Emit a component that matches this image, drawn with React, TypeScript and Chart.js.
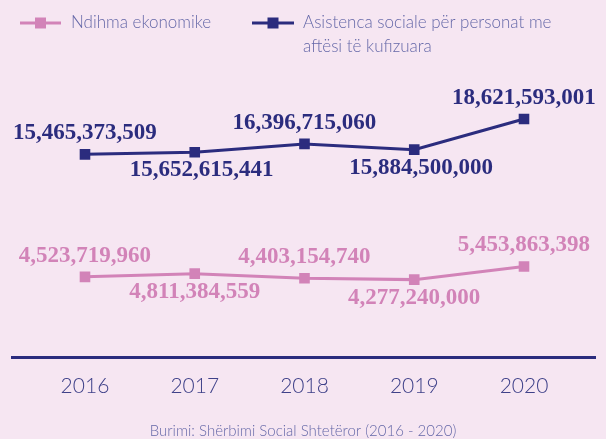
import { useEffect, useRef } from 'react';
import { Chart, registerables } from 'chart.js';

Chart.register(...registerables);

const years = [2016, 2017, 2018, 2019, 2020];
const ndihmaEkonomike = [4523719960, 4811384559, 4403154740, 4277240000, 5453863398];
const asistencaSociale = [15465373509, 15652615441, 16396715060, 15884500000, 18621593001];
const seriesNames = ['Ndihma ekonomike', 'Asistenca sociale për personat me aftësi të kufizuara'];
const sourceNote = 'Burimi: Shërbimi Social Shtetëror (2016 - 2020)';

const NAVY = '#2b2c7e';
const PINK = '#d283b8';
const BG = '#f6e6f2';
const TEXT = '#6568a8';
const TICK = '#3f4189';
const SANS = '"Lato", "Open Sans", sans-serif';
const SERIF = '"Liberation Serif", "DejaVu Serif", serif';

function wrapText(ctx: CanvasRenderingContext2D, text: string, maxWidth: number): string[] {
  const words = text.split(' ');
  const lines: string[] = [];
  let cur = '';
  for (const w of words) {
    const test = cur ? cur + ' ' + w : w;
    if (ctx.measureText(test).width > maxWidth && cur) {
      lines.push(cur);
      cur = w;
    } else {
      cur = test;
    }
  }
  if (cur) lines.push(cur);
  return lines;
}

export default function App() {
  const ref = useRef<HTMLCanvasElement>(null);

  useEffect(() => {
    const canvas = ref.current;
    if (!canvas) return;

    const valueLabels = {
      id: 'valueLabels',
      afterDatasetsDraw(chart: any) {
        const ctx = chart.ctx as CanvasRenderingContext2D;
        chart.data.datasets.forEach((ds: any, di: number) => {
          const meta = chart.getDatasetMeta(di);
          ctx.save();
          ctx.font = 'bold 23px ' + SERIF;
          ctx.fillStyle = ds.borderColor;
          ctx.textAlign = 'center';
          ctx.textBaseline = 'middle';
          meta.data.forEach((el: any, i: number) => {
            const v = ds.data[i].y as number;
            const above = i % 2 === 0;
            const dx = !above && di === 1 ? 7 : 0;
            ctx.fillText(v.toLocaleString('en-US'), el.x + dx, el.y + (above ? -21 : 18));
          });
          ctx.restore();
        });
      },
    };

    const legendAndNote = {
      id: 'legendAndNote',
      afterDraw(chart: any) {
        const ctx = chart.ctx as CanvasRenderingContext2D;
        ctx.save();
        const items = [
          { ds: chart.data.datasets[0], x0: 20, x1: 61, tx: 71 },
          { ds: chart.data.datasets[1], x0: 252, x1: 294, tx: 303 },
        ];
        const ly = 23;
        ctx.font = '300 17px ' + SANS;
        items.forEach((it) => {
          const color = it.ds.borderColor;
          ctx.strokeStyle = color;
          ctx.lineWidth = 3;
          ctx.beginPath();
          ctx.moveTo(it.x0, ly);
          ctx.lineTo(it.x1, ly);
          ctx.stroke();
          ctx.fillStyle = color;
          const cx = (it.x0 + it.x1) / 2;
          ctx.fillRect(cx - 5.5, ly - 5.5, 11, 11);
          ctx.fillStyle = TEXT;
          ctx.textAlign = 'left';
          ctx.textBaseline = 'middle';
          const lines = wrapText(ctx, it.ds.label, 260);
          lines.forEach((ln, k) => ctx.fillText(ln, it.tx, ly + k * 24));
        });
        ctx.font = '300 15px ' + SANS;
        ctx.fillStyle = TEXT;
        ctx.textAlign = 'center';
        ctx.textBaseline = 'middle';
        ctx.fillText(sourceNote, 303, 431);
        ctx.restore();
      },
    };

    const chart = new Chart(canvas, {
      type: 'line',
      data: {
        datasets: [
          {
            label: seriesNames[0],
            data: years.map((y, i) => ({ x: y, y: ndihmaEkonomike[i] })),
            borderColor: PINK,
            backgroundColor: PINK,
            borderWidth: 3,
            pointStyle: 'rect',
            pointRadius: 7.5,
            pointBorderWidth: 0,
            tension: 0,
          },
          {
            label: seriesNames[1],
            data: years.map((y, i) => ({ x: y, y: asistencaSociale[i] })),
            borderColor: NAVY,
            backgroundColor: NAVY,
            borderWidth: 3,
            pointStyle: 'rect',
            pointRadius: 7.5,
            pointBorderWidth: 0,
            tension: 0,
          },
        ],
      },
      options: {
        responsive: false,
        animation: false,
        devicePixelRatio: 1,
        layout: { padding: { top: 60, left: 12, right: 11, bottom: 24 } },
        plugins: {
          legend: { display: false },
          tooltip: { enabled: false },
        },
        scales: {
          x: {
            type: 'linear',
            min: 2015.335,
            max: 2020.647,
            grid: { display: false, drawTicks: false },
            border: { display: true, color: NAVY, width: 3 },
            afterBuildTicks: (scale: any) => {
              scale.ticks = years.map((v) => ({ value: v }));
            },
            ticks: {
              padding: 16,
              maxRotation: 0,
              autoSkip: false,
              color: TICK,
              font: { family: SANS, size: 21, weight: '300' as any },
              callback: (v: any) => String(v),
            },
          },
          y: {
            display: false,
            min: -2.704e9,
            max: 23.89e9,
          },
        },
      },
      plugins: [valueLabels, legendAndNote],
    } as any);

    return () => chart.destroy();
  }, []);

  return (
    <div style={{ position: 'absolute', left: 0, top: 0, width: 606, height: 439, background: BG }}>
      <canvas ref={ref} width={606} height={439} style={{ display: 'block' }} />
    </div>
  );
}
